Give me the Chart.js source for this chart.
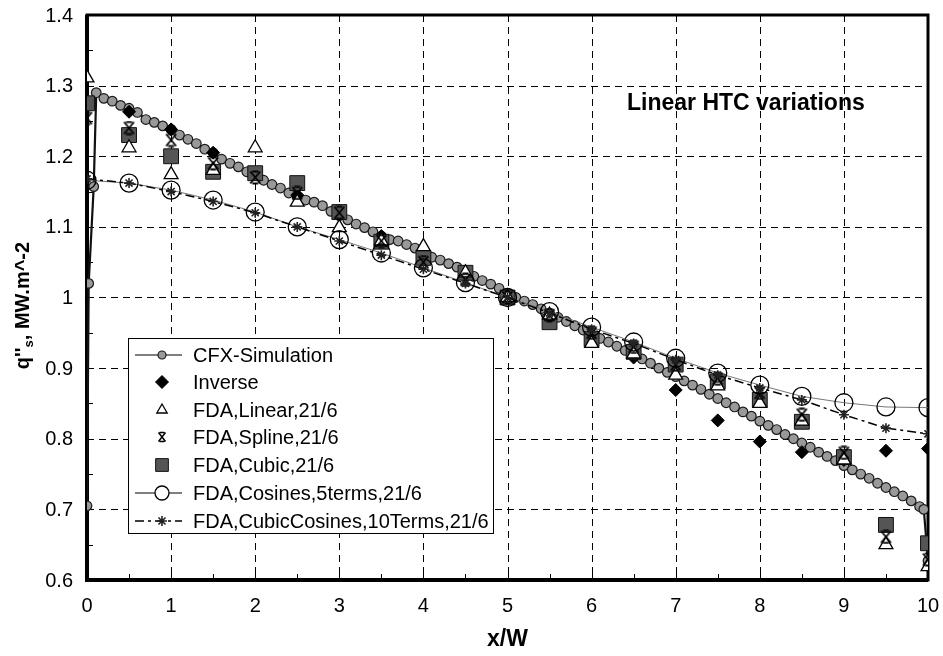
<!DOCTYPE html>
<html>
<head>
<meta charset="utf-8">
<script src="https://cdn.jsdelivr.net/npm/chart.js@4.4.1/dist/chart.umd.min.js"></script>
<style>
  html, body { margin: 0; padding: 0; background: #fff; }
</style>
</head>
<body>
<canvas id="fluxChart" width="943" height="656"></canvas>
<script>
// CFX run, sampled along x/W
let xCFX = [0, 0.02, 0.08, 0.11, 0.2, 0.3, 0.4, 0.5, 0.6, 0.7, 0.8, 0.9, 1.0,
  1.1, 1.2, 1.3, 1.4, 1.5, 1.6, 1.7, 1.8, 1.9, 2.0, 2.1, 2.2, 2.3, 2.4, 2.5,
  2.6, 2.7, 2.8, 2.9, 3.0, 3.1, 3.2, 3.3, 3.4, 3.5, 3.6, 3.7, 3.8, 3.9, 4.0,
  4.1, 4.2, 4.3, 4.4, 4.5, 4.6, 4.7, 4.8, 4.9, 5.0, 5.1, 5.2, 5.3, 5.4, 5.5,
  5.6, 5.7, 5.8, 5.9, 6.0, 6.1, 6.2, 6.3, 6.4, 6.5, 6.6, 6.7, 6.8, 6.9, 7.0,
  7.1, 7.2, 7.3, 7.4, 7.5, 7.6, 7.7, 7.8, 7.9, 8.0, 8.1, 8.2, 8.3, 8.4, 8.5,
  8.6, 8.7, 8.8, 8.9, 9.0, 9.1, 9.2, 9.3, 9.4, 9.5, 9.6, 9.7, 9.8, 9.9, 9.95, 10];
let yCFX = [0.705, 1.02, 1.157, 1.29, 1.282, 1.278, 1.272, 1.268, 1.262, 1.252, 1.248, 1.243, 1.238,
  1.23, 1.224, 1.218, 1.21, 1.205, 1.196, 1.19, 1.185, 1.178, 1.175, 1.166, 1.16, 1.155, 1.148, 1.142,
  1.138, 1.135, 1.13, 1.122, 1.116, 1.11, 1.104, 1.099, 1.093, 1.087, 1.082, 1.08, 1.075, 1.07, 1.062,
  1.057, 1.053, 1.048, 1.043, 1.036, 1.03, 1.024, 1.019, 1.013, 1.006, 1.0, 0.995, 0.99, 0.984, 0.978,
  0.972, 0.966, 0.96, 0.954, 0.948, 0.942, 0.937, 0.931, 0.925, 0.919, 0.913, 0.907, 0.9, 0.894, 0.888,
  0.882, 0.876, 0.87, 0.863, 0.857, 0.851, 0.845, 0.838, 0.832, 0.825, 0.819, 0.813, 0.806, 0.8, 0.794,
  0.788, 0.781, 0.775, 0.769, 0.762, 0.756, 0.75, 0.744, 0.737, 0.731, 0.725, 0.719, 0.712, 0.704, 0.7, 0.627];

// inverse solution
let xInverse = [0.5, 1, 1.5, 2, 2.5, 3, 3.5, 4, 4.5, 5, 5.5, 6, 6.5, 7, 7.5, 8, 8.5, 9, 9.5, 10];
let yInverse = [1.263, 1.238, 1.205, 1.175, 1.145, 1.118, 1.087, 1.055, 1.03, 1.0, 0.975, 0.945,
  0.915, 0.869, 0.826, 0.796, 0.781, 0.77, 0.783, 0.786];

// FDA runs, 21 stations
let xFDA = [0, 0.5, 1, 1.5, 2, 2.5, 3, 3.5, 4, 4.5, 5, 5.5, 6, 6.5, 7, 7.5, 8, 8.5, 9, 9.5, 10];
let yLinear = [1.311, 1.212, 1.174, 1.18, 1.212, 1.135, 1.099, 1.08, 1.072, 1.035, 1.0, 0.975, 0.935,
  0.92, 0.89, 0.875, 0.85, 0.825, 0.77, 0.65, 0.619];
let ySpline = [1.254, 1.24, 1.223, 1.19, 1.17, 1.148, 1.12, 1.08, 1.05, 1.025, 1.0, 0.975, 0.95,
  0.93, 0.905, 0.885, 0.865, 0.834, 0.78, 0.661, 0.629];
let yCubic = [1.275, 1.23, 1.2, 1.178, 1.176, 1.162, 1.121, 1.079, 1.056, 1.035, 1.0, 0.965, 0.941,
  0.923, 0.905, 0.881, 0.855, 0.824, 0.774, 0.678, 0.652];
let yCos5 = [1.166, 1.162, 1.152, 1.138, 1.121, 1.1, 1.082, 1.063, 1.042, 1.021, 1.0, 0.98, 0.958,
  0.937, 0.914, 0.893, 0.876, 0.86, 0.851, 0.845, 0.844];
let yCubCos10 = [1.168, 1.162, 1.15, 1.136, 1.12, 1.1, 1.08, 1.06, 1.04, 1.02, 1.0, 0.978, 0.955,
  0.935, 0.912, 0.89, 0.872, 0.855, 0.834, 0.815, 0.807];

let yTicks = [0.6, 0.7, 0.8, 0.9, 1, 1.1, 1.2, 1.3, 1.4];
let yTickLabels = ['0.6', '0.7', '0.8', '0.9', '1', '1.1', '1.2', '1.3', '1.4'];
let xTicks = [0, 1, 2, 3, 4, 5, 6, 7, 8, 9, 10];

function pts(xs, ys) {
  return xs.map((x, i) => ({ x: x, y: ys[i] }));
}

// X with bars top and bottom, used for the spline run
function splineMark(size, lw) {
  let c = document.createElement('canvas');
  c.width = size; c.height = size;
  let g = c.getContext('2d');
  g.strokeStyle = '#000';
  g.lineWidth = lw;
  let p = 1.5, q = size - 1.5;
  g.beginPath();
  g.moveTo(p + 1, p); g.lineTo(q - 1, q);
  g.moveTo(q - 1, p); g.lineTo(p + 1, q);
  g.moveTo(size * 0.3, p); g.lineTo(size * 0.7, p);
  g.moveTo(size * 0.3, q); g.lineTo(size * 0.7, q);
  g.stroke();
  return c;
}
let splineImg = splineMark(15, 1.8);
let splineImgSmall = splineMark(12, 1.5);

let FONT = "'Liberation Sans', Arial, sans-serif";

// dashed grid, inward ticks, heavy frame and tick labels
let framePlugin = {
  id: 'frame',
  beforeDatasetsDraw(chart) {
    let ctx = chart.ctx, a = chart.chartArea;
    let x = chart.scales.x, y = chart.scales.y;
    ctx.save();
    ctx.strokeStyle = '#000';
    ctx.lineWidth = 1;
    ctx.setLineDash([7, 5]);
    yTicks.slice(1, -1).forEach(v => {
      let py = Math.round(y.getPixelForValue(v)) + 0.5;
      ctx.beginPath(); ctx.moveTo(a.left, py); ctx.lineTo(a.right, py); ctx.stroke();
    });
    xTicks.slice(1, -1).forEach(v => {
      let px = Math.round(x.getPixelForValue(v)) + 0.5;
      ctx.beginPath(); ctx.moveTo(px, a.top); ctx.lineTo(px, a.bottom); ctx.stroke();
    });
    ctx.setLineDash([]);
    // small inward ticks
    for (let v = 0.5; v < 10; v += 0.5) {
      let px = Math.round(x.getPixelForValue(v)) + 0.5;
      ctx.beginPath(); ctx.moveTo(px, a.bottom); ctx.lineTo(px, a.bottom - 6); ctx.stroke();
    }
    for (let v = 0.65; v < 1.4; v += 0.05) {
      let py = Math.round(y.getPixelForValue(v)) + 0.5;
      ctx.beginPath(); ctx.moveTo(a.left, py); ctx.lineTo(a.left + 6, py); ctx.stroke();
    }
    ctx.lineWidth = 3;
    ctx.strokeRect(a.left, a.top, a.right - a.left, a.bottom - a.top);
    ctx.lineWidth = 4;
    ctx.beginPath();
    ctx.moveTo(a.left, a.top); ctx.lineTo(a.left, a.bottom); ctx.lineTo(a.right, a.bottom);
    ctx.stroke();

    // tick labels
    ctx.fillStyle = '#000';
    ctx.font = "20px " + FONT;
    ctx.textAlign = 'right';
    ctx.textBaseline = 'middle';
    yTicks.forEach((v, i) => {
      ctx.fillText(yTickLabels[i], a.left - 14, y.getPixelForValue(v) + 1);
    });
    ctx.textAlign = 'center';
    ctx.textBaseline = 'top';
    xTicks.forEach(v => {
      ctx.fillText(String(v), x.getPixelForValue(v), a.bottom + 16);
    });
    ctx.restore();
  },
  afterDraw(chart) {
    let ctx = chart.ctx, a = chart.chartArea;
    ctx.save();
    ctx.fillStyle = '#000';

    // x axis title
    ctx.font = "bold 23px " + FONT;
    ctx.textAlign = 'center';
    ctx.textBaseline = 'middle';
    ctx.fillText('x/W', (a.left + a.right) / 2, 640);

    // y axis title with the subscript s
    ctx.translate(22, (a.top + a.bottom) / 2 + 8);
    ctx.rotate(-Math.PI / 2);
    ctx.textAlign = 'left';
    ctx.textBaseline = 'alphabetic';
    let big = "bold 20px " + FONT, small = "bold 13px " + FONT;
    ctx.font = big;
    let w1 = ctx.measureText("q''").width;
    let w3 = ctx.measureText(', MW.m^-2').width;
    ctx.font = small;
    let w2 = ctx.measureText('s').width;
    let x0 = -(w1 + w2 + w3) / 2;
    ctx.font = big;
    ctx.fillText("q''", x0, 7);
    ctx.font = small;
    ctx.fillText('s', x0 + w1, 11);
    ctx.font = big;
    ctx.fillText(', MW.m^-2', x0 + w1 + w2, 7);
    ctx.restore();

    // note inside the plot
    ctx.save();
    ctx.font = "bold 23px " + FONT;
    ctx.fillStyle = '#000';
    ctx.textBaseline = 'middle';
    ctx.fillText('Linear HTC variations', 627, 104);
    ctx.restore();

    drawLegend(chart);
  }
};

function drawLegend(chart) {
  let ctx = chart.ctx;
  let box = { x: 128.5, y: 338.5, w: 365, h: 195 };
  ctx.save();
  ctx.fillStyle = '#fff';
  ctx.fillRect(box.x, box.y, box.w, box.h);
  ctx.strokeStyle = '#000';
  ctx.lineWidth = 1;
  ctx.strokeRect(box.x, box.y, box.w, box.h);

  let rows = [355, 382, 410, 437, 465, 493, 521];
  let mx = 162;
  chart.data.datasets.forEach(ds => {
    let ry = rows[ds.legendRow];
    if (ds.showLine) {
      ctx.save();
      ctx.strokeStyle = '#000';
      ctx.lineWidth = ds.legendLineWidth || ds.borderWidth;
      ctx.setLineDash(ds.borderDash || []);
      ctx.beginPath(); ctx.moveTo(135, ry); ctx.lineTo(182, ry); ctx.stroke();
      ctx.restore();
    }
    ctx.save();
    ctx.fillStyle = ds.legendFill || ds.pointBackgroundColor;
    ctx.strokeStyle = ds.pointBorderColor;
    ctx.lineWidth = ds.pointBorderWidth;
    Chart.helpers.drawPoint(ctx, {
      pointStyle: ds.legendPointStyle || ds.pointStyle,
      radius: ds.legendRadius,
      rotation: 0,
      borderWidth: ds.pointBorderWidth
    }, mx, ry);
    ctx.restore();
    ctx.fillStyle = '#000';
    ctx.font = "20px " + FONT;
    ctx.textAlign = 'left';
    ctx.textBaseline = 'middle';
    ctx.fillText(ds.label, 193, ry + 1);
  });
  ctx.restore();
}

let datasets = [
  {
    label: 'CFX-Simulation', data: pts(xCFX, yCFX), showLine: true,
    borderColor: '#111', borderWidth: 2.2, legendLineWidth: 1.2,
    pointStyle: 'circle', pointRadius: 4.8, legendRadius: 4,
    pointBackgroundColor: '#999', pointBorderColor: '#1a1a1a', pointBorderWidth: 1.2,
    order: 6, legendRow: 0
  },
  {
    label: 'Inverse', data: pts(xInverse, yInverse), showLine: false,
    pointStyle: 'rectRot', pointRadius: 6.5, legendRadius: 6.5,
    pointBackgroundColor: '#000', pointBorderColor: '#000', pointBorderWidth: 1,
    order: 5, legendRow: 1
  },
  {
    label: 'FDA,Linear,21/6', data: pts(xFDA, yLinear), showLine: false,
    pointStyle: 'triangle', pointRadius: 8, legendRadius: 6,
    pointBackgroundColor: '#fff', pointBorderColor: '#000', pointBorderWidth: 1.3,
    order: 3, legendRow: 2
  },
  {
    label: 'FDA,Spline,21/6', data: pts(xFDA, ySpline), showLine: false,
    pointStyle: splineImg, legendPointStyle: splineImgSmall, pointRadius: 7, legendRadius: 6,
    pointBackgroundColor: '#000', pointBorderColor: '#000', pointBorderWidth: 1,
    order: 1, legendRow: 3
  },
  {
    label: 'FDA,Cubic,21/6', data: pts(xFDA, yCubic), showLine: false,
    pointStyle: 'rect', pointRadius: 10.5, legendRadius: 9,
    pointBackgroundColor: '#555', pointBorderColor: '#111', pointBorderWidth: 1,
    order: 4, legendRow: 4
  },
  {
    label: 'FDA,Cosines,5terms,21/6', data: pts(xFDA, yCos5), showLine: true,
    borderColor: '#666', borderWidth: 0.9, legendLineWidth: 1.2,
    pointStyle: 'circle', pointRadius: 9, legendRadius: 7,
    pointBackgroundColor: 'rgba(255,255,255,0)', legendFill: '#fff',
    pointBorderColor: '#000', pointBorderWidth: 1.3,
    order: 2, legendRow: 5
  },
  {
    label: 'FDA,CubicCosines,10Terms,21/6', data: pts(xFDA, yCubCos10), showLine: true,
    borderColor: '#000', borderWidth: 1.5, borderDash: [9, 4, 3, 4],
    pointStyle: 'star', pointRadius: 5, legendRadius: 5,
    pointBackgroundColor: '#666', pointBorderColor: '#222', pointBorderWidth: 1.6,
    order: 0, legendRow: 6
  }
];

new Chart(document.getElementById('fluxChart'), {
  type: 'scatter',
  data: { datasets: datasets },
  options: {
    responsive: false,
    animation: false,
    devicePixelRatio: 1,
    layout: { padding: { top: 15, right: 15, left: 0, bottom: 0 } },
    plugins: { legend: { display: false }, tooltip: { enabled: false } },
    scales: {
      x: {
        type: 'linear', min: 0, max: 10,
        grid: { display: false }, border: { display: false },
        ticks: { stepSize: 1, display: false },
        afterFit(scale) { scale.height = 76; }
      },
      y: {
        type: 'linear', min: 0.6, max: 1.4,
        grid: { display: false }, border: { display: false },
        ticks: { stepSize: 0.1, display: false },
        afterFit(scale) { scale.width = 87; }
      }
    }
  },
  plugins: [framePlugin]
});
</script>
</body>
</html>
